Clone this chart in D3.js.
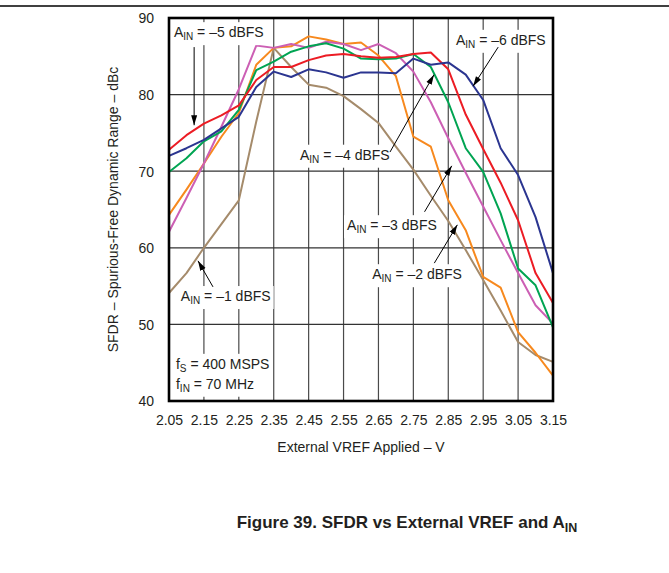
<!DOCTYPE html>
<html>
<head>
<meta charset="utf-8">
<script src="https://cdn.jsdelivr.net/npm/d3@7"></script>
<style>
    body { margin: 0; background: #fff; }
    text { font-family: "Liberation Sans", Arial, Helvetica, sans-serif; fill: #231f20; }
</style>
</head>
<body>
<div id="chart"></div>
<script>
//data, x = external VREF (V), y = SFDR (dBc)
var vref = [2.05, 2.10, 2.15, 2.20, 2.25, 2.30, 2.35, 2.40, 2.45, 2.50, 2.55, 2.60,
    2.65, 2.70, 2.75, 2.80, 2.85, 2.90, 2.95, 3.00, 3.05, 3.10, 3.15];

var ain1 = [54.1, 56.7, 60.0, 63.1, 66.2, 76.5, 86.1, 83.6, 81.3, 80.9, 79.8, 78.1,
    76.3, 73.2, 70.2, 66.8, 63.5, 59.7, 55.8, 51.8, 47.7, 46.0, 45.1];
var ain2 = [64.3, 67.6, 71.0, 74.5, 77.6, 83.9, 86.1, 86.3, 87.6, 87.2, 86.6, 86.8,
    85.1, 82.4, 74.5, 73.2, 66.2, 62.3, 56.2, 54.8, 49.0, 46.3, 43.3];
var ain3 = [62.1, 66.5, 71.0, 75.8, 80.7, 86.4, 86.1, 86.6, 86.1, 86.9, 86.6, 85.8,
    86.6, 85.4, 83.0, 79.0, 74.3, 69.8, 65.4, 61.0, 56.7, 52.5, 50.1];
var ain4 = [69.9, 71.7, 73.9, 75.2, 78.0, 83.2, 84.3, 85.6, 86.3, 86.7, 86.0, 84.7,
    84.6, 84.7, 85.3, 83.6, 79.0, 73.0, 69.9, 64.5, 57.3, 55.1, 49.6];
var ain5 = [72.8, 74.7, 76.2, 77.3, 78.6, 81.9, 83.6, 83.6, 84.5, 85.1, 85.3, 85.0,
    84.8, 84.9, 85.3, 85.5, 83.3, 77.4, 72.9, 68.5, 63.6, 56.7, 52.8];
var ain6 = [72.0, 73.0, 74.1, 75.6, 77.1, 81.0, 83.0, 82.3, 83.3, 82.9, 82.2, 82.9,
    82.9, 82.8, 84.7, 83.9, 84.2, 82.6, 79.3, 73.0, 69.5, 64.0, 56.7];

var xTicks = [2.05, 2.15, 2.25, 2.35, 2.45, 2.55, 2.65, 2.75, 2.85, 2.95, 3.05, 3.15];
var yTicks = [40, 50, 60, 70, 80, 90];

var seriesNames = ["-1 dBFS", "-2 dBFS", "-3 dBFS", "-4 dBFS", "-5 dBFS", "-6 dBFS"];
var seriesColors = ["#a58b6b", "#f7891e", "#cc5fb4", "#00a452", "#ec1c24", "#2b3590"];

//annotation text and arrows, placed in data units
var labels = [
    { main: "A", sub: "IN", rest: " = \u20135 dBFS", x: 2.064, y: 87.5 },
    { main: "A", sub: "IN", rest: " = \u20136 dBFS", x: 2.872, y: 86.5 },
    { main: "A", sub: "IN", rest: " = \u20134 dBFS", x: 2.425, y: 71.5 },
    { main: "A", sub: "IN", rest: " = \u20133 dBFS", x: 2.560, y: 62.3 },
    { main: "A", sub: "IN", rest: " = \u20132 dBFS", x: 2.632, y: 55.9 },
    { main: "A", sub: "IN", rest: " = \u20131 dBFS", x: 2.084, y: 53.05 },
    { main: "f", sub: "S", rest: " = 400 MSPS", x: 2.070, y: 44.2 },
    { main: "f", sub: "IN", rest: " = 70 MHz", x: 2.070, y: 41.6 }
];
var arrows = [
    { x1: 2.122, y1: 86.2, x2: 2.122, y2: 76.0 },
    { x1: 2.993, y1: 86.2, x2: 2.921, y2: 81.1 },
    { x1: 2.683, y1: 72.5, x2: 2.809, y2: 82.6 },
    { x1: 2.782, y1: 64.7, x2: 2.860, y2: 70.7 },
    { x1: 2.810, y1: 58.0, x2: 2.876, y2: 63.0 },
    { x1: 2.176, y1: 54.9, x2: 2.133, y2: 58.3 }
];

var width = 669, height = 573;
var margin = { top: 18, left: 169, right: 116, bottom: 172 };
var innerwidth = width - margin.left - margin.right,
    innerheight = height - margin.top - margin.bottom;

var x_scale = d3.scaleLinear().domain([2.05, 3.15]).range([0, innerwidth]);
var y_scale = d3.scaleLinear().domain([40, 90]).range([innerheight, 0]);

var svg = d3.select("#chart").append("svg")
    .attr("width", width)
    .attr("height", height);

svg.append("rect").attr("width", width).attr("height", height).attr("fill", "#fff");

// rule across the top of the page
svg.append("line")
    .attr("x1", 0).attr("x2", width)
    .attr("y1", 6).attr("y2", 6)
    .attr("stroke", "#000").attr("stroke-width", 1.5);

var defs = svg.append("defs");
defs.append("marker")
    .attr("id", "head")
    .attr("viewBox", "0 -4 10 8")
    .attr("refX", 10).attr("refY", 0)
    .attr("markerUnits", "userSpaceOnUse")
    .attr("markerWidth", 10).attr("markerHeight", 8)
    .attr("orient", "auto")
    .append("path")
    .attr("d", "M0,-3L10,0L0,3Z")
    .attr("fill", "#000");

var g = svg.append("g")
    .attr("transform", "translate(" + margin.left + "," + margin.top + ")");

// grid
var gridX = d3.range(1, 11).map(function (i) { return 2.05 + i * 0.1; });
g.append("g").selectAll("line")
    .data(gridX)
    .enter().append("line")
    .attr("x1", function (d) { return x_scale(d); })
    .attr("x2", function (d) { return x_scale(d); })
    .attr("y1", 0).attr("y2", innerheight)
    .attr("stroke", "#4a4a4a").attr("stroke-width", 1.2);

g.append("g").selectAll("line")
    .data(yTicks.slice(1, -1))
    .enter().append("line")
    .attr("x1", 0).attr("x2", innerwidth)
    .attr("y1", function (d) { return y_scale(d); })
    .attr("y2", function (d) { return y_scale(d); })
    .attr("stroke", "#333").attr("stroke-width", 1.3);

// series
var draw_line = d3.line()
    .x(function (d) { return x_scale(d[0]); })
    .y(function (d) { return y_scale(d[1]); });

var allSeries = [ain1, ain2, ain3, ain4, ain5, ain6];
g.append("g").selectAll("path")
    .data(allSeries.map(function (s) { return d3.zip(vref, s); }))
    .enter().append("path")
    .attr("d", draw_line)
    .attr("fill", "none")
    .attr("stroke", function (_, i) { return seriesColors[i]; })
    .attr("stroke-width", 2)
    .attr("stroke-linejoin", "round");

// labels with white boxes behind them
var lab = g.append("g").selectAll("g.lab")
    .data(labels)
    .enter().append("g").attr("class", "lab");

lab.each(function (d) {
    var el = d3.select(this);
    var t = el.append("text")
        .attr("x", x_scale(d.x))
        .attr("y", y_scale(d.y))
        .style("font-size", "14px");
    t.append("tspan").text(d.main);
    t.append("tspan").attr("dy", 3).style("font-size", "10px").text(d.sub);
    t.append("tspan").attr("dy", -3).text(d.rest);
    var b = t.node().getBBox();
    el.insert("rect", "text")
        .attr("x", b.x - 3).attr("y", b.y - 2)
        .attr("width", b.width + 6).attr("height", b.height + 5)
        .attr("fill", "#fff");
});

g.append("g").selectAll("line")
    .data(arrows)
    .enter().append("line")
    .attr("x1", function (d) { return x_scale(d.x1); })
    .attr("y1", function (d) { return y_scale(d.y1); })
    .attr("x2", function (d) { return x_scale(d.x2); })
    .attr("y2", function (d) { return y_scale(d.y2); })
    .attr("stroke", "#000").attr("stroke-width", 1)
    .attr("marker-end", "url(#head)");

// frame
g.append("rect")
    .attr("width", innerwidth).attr("height", innerheight)
    .attr("fill", "none").attr("stroke", "#000").attr("stroke-width", 2.6);

// axes
var x_axis = d3.axisBottom(x_scale).tickValues(xTicks).tickSize(0).tickPadding(0)
    .tickFormat(d3.format(".2f"));
var y_axis = d3.axisLeft(y_scale).tickValues(yTicks).tickSize(0).tickPadding(0);

var xa = g.append("g")
    .attr("transform", "translate(0," + innerheight + ")")
    .call(x_axis);
xa.select(".domain").remove();
xa.selectAll("text").attr("dy", null).attr("y", 24).style("font-size", "14px")
    .attr("font-family", null);

var ya = g.append("g").call(y_axis);
ya.select(".domain").remove();
ya.selectAll("text").attr("x", -15).attr("dy", "0.35em").style("font-size", "14px")
    .attr("font-family", null);

g.append("text")
    .attr("x", innerwidth / 2)
    .attr("y", innerheight + 51)
    .style("text-anchor", "middle")
    .style("font-size", "14px")
    .text("External VREF Applied \u2013 V");

g.append("text")
    .attr("transform", "rotate(-90)")
    .attr("x", -innerheight / 2)
    .attr("y", -51)
    .style("text-anchor", "middle")
    .style("font-size", "14px")
    .text("SFDR \u2013 Spurious-Free Dynamic Range \u2013 dBc");

// caption
var cap = svg.append("text")
    .attr("x", 407)
    .attr("y", 528)
    .style("text-anchor", "middle")
    .style("font-size", "17px")
    .style("font-weight", "bold");
cap.append("tspan").text("Figure 39. SFDR vs External VREF and A");
cap.append("tspan").attr("dy", 4).style("font-size", "12.5px").text("IN");
</script>
</body>
</html>
